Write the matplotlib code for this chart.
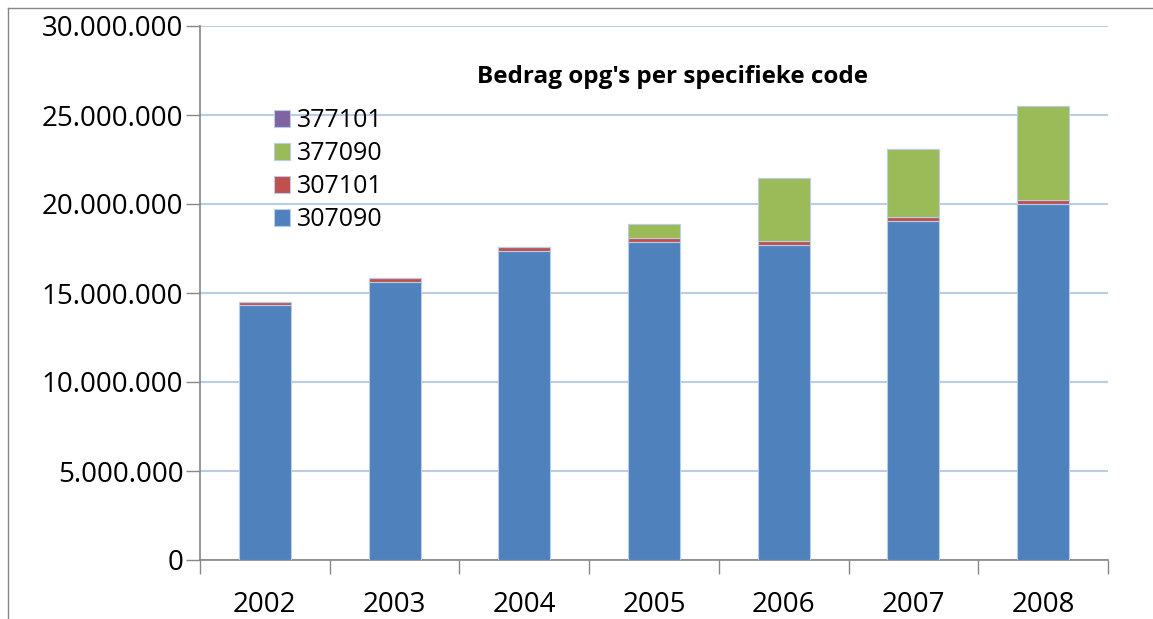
import matplotlib.pyplot as plt
import numpy as np
from matplotlib.lines import Line2D

# ---------------- DATA ----------------
years = ['2002', '2003', '2004', '2005', '2006', '2007', '2008']
c307090 = [14.31e6, 15.63e6, 17.36e6, 17.88e6, 17.70e6, 19.06e6, 20.02e6]
c307101 = [0.18e6, 0.20e6, 0.25e6, 0.23e6, 0.22e6, 0.23e6, 0.20e6]
c377090 = [0, 0, 0, 0.77e6, 3.52e6, 3.80e6, 5.26e6]
c377101 = [0, 0, 0, 0, 0, 0, 0.04e6]

series = [('307090', c307090, '#4F81BD'),
          ('307101', c307101, '#C0504D'),
          ('377090', c377090, '#9BBB59'),
          ('377101', c377101, '#8064A2')]

plt.rcParams['font.family'] = ['Open Sans', 'DejaVu Sans']

fig = plt.figure(figsize=(11.53, 6.19), dpi=100)
ax = fig.add_axes([200/1153, 1 - 560/619, 908/1153, 534/619])

x = np.arange(len(years))
bottom = np.zeros(len(years))
handles = []
for name, vals, col in series:
    vals = np.array(vals)
    b = ax.bar(x, vals, 0.4, bottom=bottom, color=col, edgecolor='#B9CDE5',
               linewidth=0.8, label=name, zorder=3)
    handles.append(b)
    bottom += vals

ax.set_xlim(-0.5, len(years) - 0.5)
ax.set_ylim(0, 30e6)
ax.set_yticks(np.arange(0, 30e6 + 1, 5e6))
ax.set_yticklabels([f'{int(v):,}'.replace(',', '.') for v in np.arange(0, 30e6 + 1, 5e6)])
ax.yaxis.grid(True, color='#B9CDE5', linewidth=1.5, zorder=0)
ax.set_axisbelow(True)

ax.set_xticks(x)
ax.set_xticklabels(years)
ax.set_xticks(np.arange(-0.5, len(years), 1), minor=True)
ax.tick_params(axis='x', which='major', length=0, pad=22, labelsize=20)
ax.tick_params(axis='x', which='minor', length=10, color='#868686', width=1)
ax.tick_params(axis='y', length=10, color='#868686', width=1, labelsize=20, pad=2)

for s in ['top', 'right']:
    ax.spines[s].set_visible(False)
for s in ['left', 'bottom']:
    ax.spines[s].set_color('#868686')
    ax.spines[s].set_linewidth(1.2)

ax.text(0.52, 0.905, "Bedrag opg's per specifieke code", transform=ax.transAxes,
        ha='center', va='center', fontsize=17.5, fontweight='bold')

leg = ax.legend(handles[::-1], [s[0] for s in series][::-1], loc='upper left',
                bbox_to_anchor=(0.070, 0.865), frameon=False, fontsize=18,
                handlelength=0.65, handleheight=0.65, handletextpad=0.3,
                labelspacing=0.32, borderaxespad=0)

# chart area border
fig.add_artist(Line2D([8/1153, 8/1153], [0, 1 - 8/619], color='#868686', lw=1))
fig.add_artist(Line2D([8/1153, 1], [1 - 8/619, 1 - 8/619], color='#868686', lw=1))

fig.savefig('out.png', dpi=100)
